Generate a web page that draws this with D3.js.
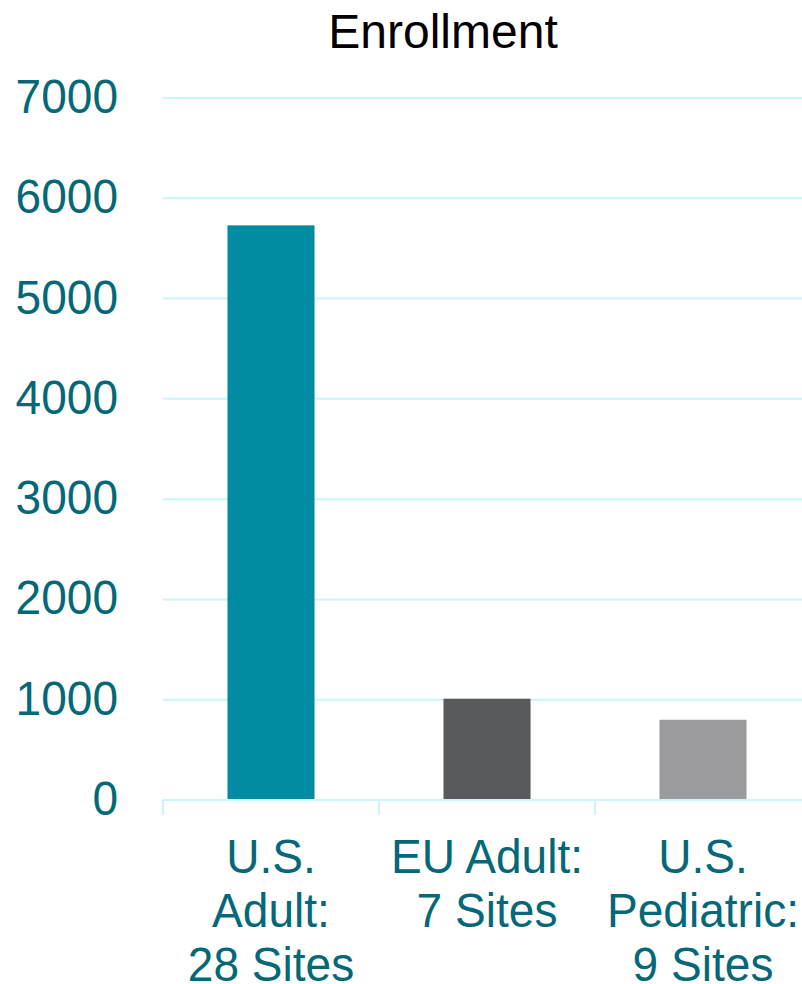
<!DOCTYPE html>
<html><head><meta charset="utf-8">
<script src="https://cdn.jsdelivr.net/npm/d3@7/dist/d3.min.js"></script>
<style>body{margin:0;background:#fff;}svg{display:block;}</style>
</head><body>
<svg id="chart" width="802" height="984"></svg>
<script>
const categories = ["U.S. Adult: 28 Sites", "EU Adult: 7 Sites", "U.S. Pediatric: 9 Sites"];
const categoryLines = [["U.S.", "Adult:", "28 Sites"], ["EU Adult:", "7 Sites"], ["U.S.", "Pediatric:", "9 Sites"]];
const values = [5730, 1010, 800];
const barColors = ["#008ba3", "#58595b", "#9b9b9d"];
const yTicks = [0, 1000, 2000, 3000, 4000, 5000, 6000, 7000];
const title = "Enrollment";

const svg = d3.select("#chart");
const font = "'Liberation Sans', Arial, sans-serif";
const teal = "#046878";
const gridColor = "#ccf4fa";
const sx = 0.94;

const x = d3.scaleBand().domain(categories).range([163, 811]).paddingInner(0.597).paddingOuter(0.2985);
const y = d3.scaleLinear().domain([0, 7000]).range([800, 98]);

// gridlines
svg.append("g").selectAll("line").data(yTicks.filter(d => d > 0)).join("line")
  .attr("x1", 163).attr("x2", 811)
  .attr("y1", d => y(d)).attr("y2", d => y(d))
  .attr("stroke", gridColor).attr("stroke-width", 2);

// bars
svg.append("g").selectAll("rect").data(values).join("rect")
  .attr("x", (d, i) => x(categories[i]))
  .attr("width", x.bandwidth())
  .attr("y", d => y(d))
  .attr("height", d => y(0) - y(d))
  .attr("fill", (d, i) => barColors[i]);

// x axis baseline and tick marks at band boundaries
const step = x.step();
const x0 = 163;
svg.append("line").attr("x1", x0).attr("x2", 811).attr("y1", y(0)).attr("y2", y(0))
  .attr("stroke", gridColor).attr("stroke-width", 2);
svg.append("g").selectAll("line").data(d3.range(categories.length + 1)).join("line")
  .attr("x1", i => x0 + i * step).attr("x2", i => x0 + i * step)
  .attr("y1", y(0)).attr("y2", y(0) + 15)
  .attr("stroke", gridColor).attr("stroke-width", 2);

// y tick labels
svg.append("g").selectAll("text").data(yTicks).join("text")
  .attr("transform", d => `translate(118,${y(d) + 15}) scale(${sx},1)`)
  .attr("text-anchor", "end")
  .attr("font-family", font).attr("font-size", 49).attr("fill", teal)
  .text(d => d);

// x labels
const xl = svg.append("g").selectAll("text").data(categories).join("text")
  .attr("transform", d => `translate(${x(d) + x.bandwidth() / 2},873) scale(${sx},1)`)
  .attr("text-anchor", "middle")
  .attr("font-family", font).attr("font-size", 49).attr("fill", teal);
xl.each(function(d, i) {
  const t = d3.select(this);
  categoryLines[i].forEach((ln, j) => {
    t.append("tspan").attr("x", 0).attr("y", j * 54).text(ln);
  });
});

// title
svg.append("text").attr("x", 443).attr("y", 48).attr("text-anchor", "middle")
  .attr("font-family", font).attr("font-size", 48).attr("fill", "#000").text(title);
</script>
</body></html>
